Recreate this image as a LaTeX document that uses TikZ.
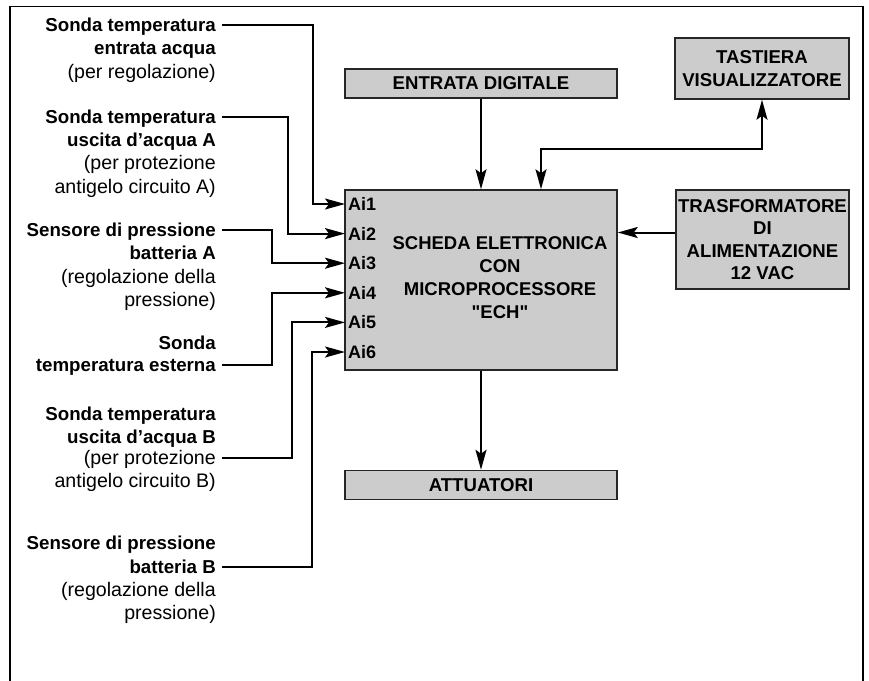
\documentclass[tikz,border=0pt]{standalone}
\usepackage{fontspec}
\setmainfont{Liberation Sans}
\usetikzlibrary{arrows.meta, positioning}
\tikzset{
 bigtip/.tip={Stealth[length=20pt, width=11pt, inset=4pt]},
 box/.style={draw=black!85, line width=1.5pt, fill=black!20, inner sep=0pt, align=center, font=\bfseries\fontsize{18.6}{22.5}\selectfont},
 wire/.style={line width=2pt, -bigtip},
 lbl/.style={anchor=east, inner xsep=6pt, inner ysep=0pt, text height=13pt, text depth=0pt, font=\fontsize{19.6}{22}\selectfont},
 lblb/.style={lbl, font=\bfseries\fontsize{18.7}{22}\selectfont},
 ain/.style={anchor=west, inner xsep=3pt, inner ysep=0pt, text height=13pt, text depth=0pt, font=\bfseries\fontsize{18}{22}\selectfont}
}
\begin{document}
\begin{tikzpicture}[x=1pt, y=-1pt]
 \useasboundingbox (0,0) rectangle (869,680);
 \draw[line width=1.5pt] (10,700) -- (10,6.5) -- (863,6.5) -- (863,700);

 \node[box, minimum width=272pt, minimum height=29pt] (digin) at (481,83.5) {ENTRATA DIGITALE};
 \node[box, minimum width=174pt, minimum height=61pt] (keyb) at (762,68.5) {TASTIERA\\VISUALIZZATORE};
 \node[box, minimum width=272pt, minimum height=180pt] (ech) at (481,280) {};
 \node[align=center, inner sep=0pt, font=\bfseries\fontsize{18.5}{23}\selectfont] (echtxt) at (500,277.5) {SCHEDA ELETTRONICA\\CON\\MICROPROCESSORE\\\textquotedbl ECH\textquotedbl};
 \node[box, minimum width=173pt, minimum height=99pt] (trafo) at (762.5,239.5) {TRASFORMATORE\\DI\\ALIMENTAZIONE\\12 VAC};
 \node[box, minimum width=272pt, minimum height=29pt] (act) at (481,485) {ATTUATORI};

 \node[ain] (ai1) at (345,204) {Ai1};
 \node[ain] (ai2) at (345,233.6) {Ai2};
 \node[ain] (ai3) at (345,263.2) {Ai3};
 \node[ain] (ai4) at (345,292.8) {Ai4};
 \node[ain] (ai5) at (345,322.4) {Ai5};
 \node[ain] (ai6) at (345,352) {Ai6};

 \node[lblb] (t1a) at (222,25) {Sonda temperatura};
 \node[lblb] (t1b) at (222,48) {entrata acqua};
 \node[lbl] (t1c) at (222,72) {(per regolazione)};

 \node[lblb] (t2a) at (222,117) {Sonda temperatura};
 \node[lblb] (t2b) at (222,140) {uscita d'acqua A};
 \node[lbl] (t2c) at (222,163) {(per protezione};
 \node[lbl] (t2d) at (222,187) {antigelo circuito A)};

 \node[lblb] (t3a) at (222,230) {Sensore di pressione};
 \node[lblb] (t3b) at (222,253) {batteria A};
 \node[lbl] (t3c) at (222,277) {(regolazione della};
 \node[lbl] (t3d) at (222,300) {pressione)};

 \node[lblb] (t4a) at (222,343) {Sonda};
 \node[lblb] (t4b) at (222,365) {temperatura esterna};

 \node[lblb] (t5a) at (222,413.5) {Sonda temperatura};
 \node[lblb] (t5b) at (222,436.5) {uscita d'acqua B};
 \node[lbl] (t5c) at (222,458) {(per protezione};
 \node[lbl] (t5d) at (222,481) {antigelo circuito B)};

 \node[lblb] (t6a) at (222,543) {Sensore di pressione};
 \node[lblb] (t6b) at (222,567) {batteria B};
 \node[lbl] (t6c) at (222,590) {(regolazione della};
 \node[lbl] (t6d) at (222,613) {pressione)};

 \draw[wire] (t1a.east) -- ++(91,0) |- (ai1.west);
 \draw[wire] (t2a.east) -- ++(66,0) |- (ai2.west);
 \draw[wire] (t3a.east) -- ++(50,0) |- (ai3.west);
 \draw[wire] (t4b.east) -- ++(50,0) |- (ai4.west);
 \draw[wire] (t5c.east) -- ++(70,0) |- (ai5.west);
 \draw[wire] (t6b.east) -- ++(90,0) |- (ai6.west);

 \draw[wire] (digin.south) -- (ech.north);
 \draw[wire, bigtip-bigtip] ([xshift=60pt]ech.north) -- ++(0,-40) -| (keyb.south);
 \draw[wire] ([yshift=7pt]trafo.west) -- ([yshift=7pt]trafo.west -| ech.east);
 \draw[wire] (ech.south) -- (act.north);
\end{tikzpicture}
\end{document}
